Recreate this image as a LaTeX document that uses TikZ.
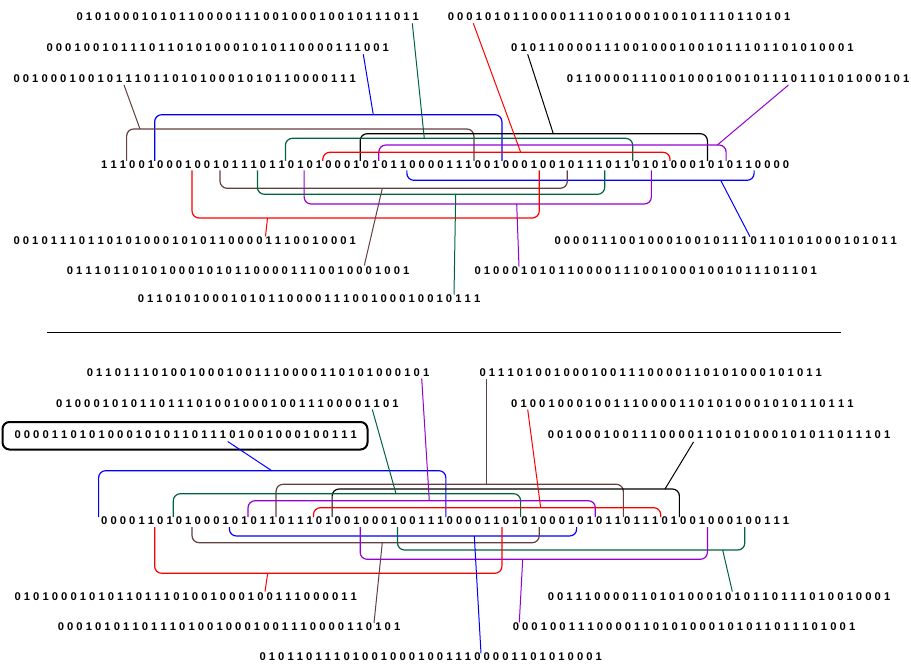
\documentclass[tikz,border=0pt]{standalone}
\usepackage{fontspec}
\setmainfont{Liberation Sans}
\definecolor{cbrown}{RGB}{100,64,64}
\definecolor{cgreen}{RGB}{0,100,60}
\definecolor{cpurple}{RGB}{150,0,210}
\definecolor{cblue}{RGB}{0,0,255}
\definecolor{cred}{RGB}{255,0,0}
\newcommand\bitstr[1]{\bitsx#1\relax}
\def\bitsx#1#2{#1\ifx\relax#2\else\ \expandafter\bitsx\expandafter#2\fi}
\newcommand\sbr[5]{%
  \pgfmathsetmacro\bxa{104.114+9.3406*(#2)-5.5}%
  \pgfmathsetmacro\bxb{104.114+9.3406*(#3)+5.5}%
  \draw[brk,#1] (\bxa,#5) -- (\bxa,#4) -- (\bxb,#4) -- (\bxb,#5);}
\begin{document}
\begin{tikzpicture}[x=1pt,y=-1pt,
  lbl/.style={anchor=west,inner sep=0pt,font=\fontsize{11.2}{13}\selectfont\bfseries},
  brk/.style={line width=1.2pt,rounded corners=7pt},
  conn/.style={line width=1pt}]
\useasboundingbox (0,0) rectangle (911,666);
\fill[white] (0,0) rectangle (911,666);
% ---------- top half ----------
\node[lbl] (A) at (76.3,17) {\bitstr{0101000101011000011100100010010111011}};
\node[lbl] (B) at (447.6,17) {\bitstr{0001010110000111001000100101110110101}};
\node[lbl] (C) at (46.3,48) {\bitstr{0001001011101101010001010110000111001}};
\node[lbl] (D) at (511,48) {\bitstr{0101100001110010001001011101101010001}};
\node[lbl] (E) at (13.3,79) {\bitstr{0010001001011101101010001010110000111}};
\node[lbl] (F) at (566.6,79) {\bitstr{0110000111001000100101110110101000101}};
\node[lbl] (top) at (101,165) {\bitstr{11100100010010111011010100010101100001110010001001011101101010001010110000}};
\node[lbl] (G) at (13.3,241) {\bitstr{0010111011010100010101100001110010001}};
\node[lbl] (H) at (554.3,241) {\bitstr{0000111001000100101110110101000101011}};
\node[lbl] (I) at (66.7,270.5) {\bitstr{0111011010100010101100001110010001001}};
\node[lbl] (J) at (474.3,271) {\bitstr{0100010101100001110010001001011101101}};
\node[lbl] (K) at (137.6,299) {\bitstr{0110101000101011000011100100010010111}};
% brackets above
\sbr{cblue}{6}{42}{114.7}{161}
\sbr{cbrown}{3}{39}{129}{161}
\sbr{black}{28}{64}{133.7}{161}
\sbr{cgreen}{20}{56}{138.3}{161}
\sbr{cpurple}{30}{66}{145}{161}
\sbr{cred}{24}{60}{152.3}{161}
% brackets below
\sbr{cblue}{33}{69}{180.3}{170.5}
\sbr{cbrown}{13}{49}{188.3}{170.5}
\sbr{cgreen}{17}{53}{194.3}{170.5}
\sbr{cpurple}{22}{58}{204}{170.5}
\sbr{cred}{10}{46}{218}{170.5}
% connectors
\coordinate (A1) at (412.3,23.3); \coordinate (A2) at (424.3,138.3);
\coordinate (B1) at (473.3,23.3); \coordinate (B2) at (520.7,152.3);
\coordinate (C1) at (363.3,54.3); \coordinate (C2) at (373.3,114.7);
\coordinate (D1) at (527.7,54.3); \coordinate (D2) at (553.3,133.7);
\coordinate (E1) at (124,85);     \coordinate (E2) at (140,129);
\coordinate (F1) at (788.5,85);   \coordinate (F2) at (717.3,145);
\coordinate (G1) at (265.5,236.5);\coordinate (G2) at (267.5,218);
\coordinate (H1) at (750,236.7);  \coordinate (H2) at (720.7,180.3);
\coordinate (I1) at (364.3,265.5);\coordinate (I2) at (382.3,188.3);
\coordinate (J1) at (519,266.7);  \coordinate (J2) at (516.7,204);
\coordinate (K1) at (454,294.5);  \coordinate (K2) at (455.7,194.3);
\draw[conn,cgreen] (A1) -- (A2);
\draw[conn,cred] (B1) -- (B2);
\draw[conn,cblue] (C1) -- (C2);
\draw[conn,black] (D1) -- (D2);
\draw[conn,cbrown] (E1) -- (E2);
\draw[conn,cpurple] (F1) -- (F2);
\draw[conn,cred] (G1) -- (G2);
\draw[conn,cblue] (H1) -- (H2);
\draw[conn,cbrown] (I1) -- (I2);
\draw[conn,cpurple] (J1) -- (J2);
\draw[conn,cgreen] (K1) -- (K2);
% separator
\coordinate (s1) at (47,332); \coordinate (s2) at (841,332);
\draw[line width=1pt] (s1) -- (s2);
% ---------- bottom half ----------
\node[lbl] (L) at (86.6,372.5) {\bitstr{0110111010010001001110000110101000101}};
\node[lbl] (M) at (479.3,372.5) {\bitstr{0111010010001001110000110101000101011}};
\node[lbl] (N) at (56,403.5) {\bitstr{0100010101101110100100010011100001101}};
\node[lbl] (O) at (511,403.5) {\bitstr{0100100010011100001101010001010110111}};
\node[lbl] (Q) at (14.3,435) {\bitstr{0000110101000101011011101001000100111}};
\node[lbl] (R) at (547.6,435) {\bitstr{0010001001110000110101000101011011101}};
\node[lbl] (bot) at (101,521) {\bitstr{00001101010001010110111010010001001110000110101000101011011101001000100111}};
\node[lbl] (S) at (14.3,596.7) {\bitstr{0101000101011011101001000100111000011}};
\node[lbl] (T) at (547.6,596.7) {\bitstr{0011100001101010001010110111010010001}};
\node[lbl] (U) at (57.6,626.7) {\bitstr{0001010110111010010001001110000110101}};
\node[lbl] (V) at (512.6,626.7) {\bitstr{0001001110000110101000101011011101001}};
\node[lbl] (W) at (259.3,657) {\bitstr{0101101110100100010011100001101010001}};
\draw[line width=2pt,rounded corners=7pt] (2.5,422) rectangle (367.5,449.5);
% brackets above
\sbr{cblue}{0}{36}{470.7}{517}
\sbr{cbrown}{19}{55}{484.3}{517}
\sbr{black}{25}{61}{489}{517}
\sbr{cgreen}{8}{44}{493.7}{517}
\sbr{cpurple}{16}{52}{500.7}{517}
\sbr{cred}{23}{59}{507.7}{517}
% brackets below
\sbr{cblue}{14}{50}{536}{527}
\sbr{cbrown}{10}{46}{542.7}{527}
\sbr{cgreen}{32}{68}{550}{527}
\sbr{cpurple}{28}{64}{559.3}{527}
\sbr{cred}{6}{42}{573.3}{527}
% connectors
\coordinate (L1) at (421.7,378.5); \coordinate (L2) at (429.3,500.7);
\coordinate (M1) at (486,379);     \coordinate (M2) at (486,484.3);
\coordinate (N1) at (372.3,409.5); \coordinate (N2) at (396,493.7);
\coordinate (O1) at (527.7,409.5); \coordinate (O2) at (540.7,507.7);
\coordinate (Q1) at (227.7,441.5); \coordinate (Q2) at (271.7,470.7);
\coordinate (R1) at (693.5,442);   \coordinate (R2) at (665,489);
\coordinate (S1) at (265,591.5);   \coordinate (S2) at (267.7,573.3);
\coordinate (T1) at (732.3,591.5); \coordinate (T2) at (722.7,550);
\coordinate (U1) at (374,623);     \coordinate (U2) at (382.3,542.7);
\coordinate (V1) at (519.3,622.3); \coordinate (V2) at (522.7,559.3);
\coordinate (W1) at (481,653.3);   \coordinate (W2) at (474.3,536);
\draw[conn,cpurple] (L1) -- (L2);
\draw[conn,cbrown] (M1) -- (M2);
\draw[conn,cgreen] (N1) -- (N2);
\draw[conn,cred] (O1) -- (O2);
\draw[conn,cblue] (Q1) -- (Q2);
\draw[conn,black] (R1) -- (R2);
\draw[conn,cred] (S1) -- (S2);
\draw[conn,cgreen] (T1) -- (T2);
\draw[conn,cbrown] (U1) -- (U2);
\draw[conn,cpurple] (V1) -- (V2);
\draw[conn,cblue] (W1) -- (W2);
\end{tikzpicture}
\end{document}
